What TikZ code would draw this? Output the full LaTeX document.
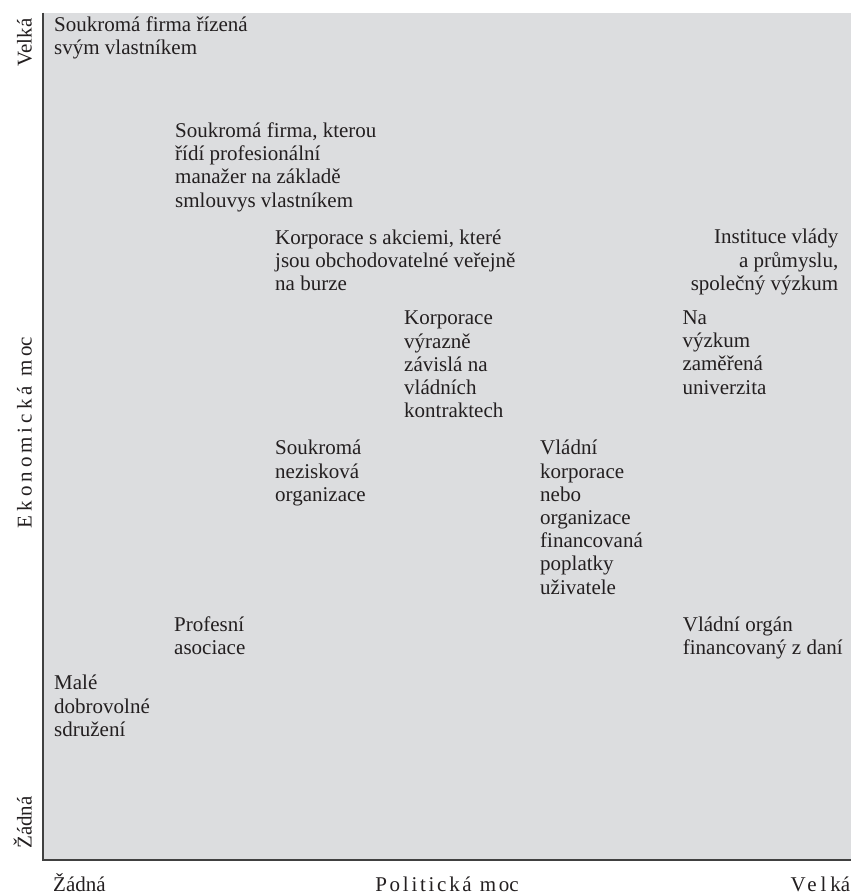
\documentclass[tikz,border=0pt]{standalone}
\usepackage{fontspec}
\setmainfont{Liberation Serif}
\newfontfamily\spacedA[LetterSpace=19]{Liberation Serif}
\newfontfamily\spacedB[LetterSpace=13]{Liberation Serif}
\newcommand\lblfont{\fontsize{21}{23.2}\selectfont}
\definecolor{bgc}{HTML}{DCDDDF}
\definecolor{axc}{HTML}{404040}
\definecolor{txtc}{HTML}{231F20}
\begin{document}
\begin{tikzpicture}[x=1pt,y=-1pt,
  lbl/.style={anchor=north west, inner sep=0pt, align=left, font=\lblfont, text=txtc,
    execute at begin node={\rule{0pt}{16pt}}},
  lblr/.style={lbl, anchor=north east, align=right},
  axlbl/.style={inner sep=0pt, font=\lblfont, text=txtc}]
\useasboundingbox (0,0) rectangle (851,894);
\fill[bgc] (43,12.7) rectangle (851,859.5);
\draw[axc, line width=2pt] (43,12.7) -- (43,859.5) -- (851,859.5);

% first-line baseline minus 16
\node[lbl] (a) at (54,16.5) {Soukromá firma řízená\\svým vlastníkem};
\node[lbl] (b) at (175,122.5) {Soukromá firma, kterou\\řídí profesionální\\manažer na základě\\smlouvys vlastníkem};
\node[lbl] (c) at (275,229.5) {Korporace s akciemi, které\\jsou obchodovatelné veřejně\\na burze};
\node[lblr] (d) at (838.5,229) {Instituce vlády\\a průmyslu,\\společný výzkum};
\node[lbl] (e) at (404,311) {Korporace\\výrazně\\závislá na\\vládních\\kontraktech};
\node[lbl] (f) at (682.3,310.5) {Na\\výzkum\\zaměřená\\univerzita};
\node[lbl] (g) at (275,440) {Soukromá\\nezisková\\organizace};
\node[lbl] (h) at (540,440) {Vládní\\korporace\\nebo\\organizace\\financovaná\\poplatky\\uživatele};
\node[lbl] (i) at (174,616.5) {Profesní\\asociace};
\node[lbl] (j) at (682.7,616.5) {Vládní orgán\\financovaný z daní};
\node[lbl] (k) at (54,675) {Malé\\dobrovolné\\sdružení};

% axis labels
\node[axlbl, rotate=90, anchor=base] (yhi) at (31.5,42.5) {Velká};
\node[axlbl, rotate=90, anchor=base] (ytitle) at (31.5,432.5) {{\spacedA Ekonomická mo}c};
\node[axlbl, rotate=90, anchor=base] (ylo) at (31.5,822.5) {Žádná};
\node[axlbl, anchor=base west] (xlo) at (53,891) {Žádná};
\node[axlbl, anchor=base] (xtitle) at (447,891) {{\spacedB Politická mo}c};
\node[axlbl, anchor=base east] (xhi) at (850.5,891) {{\spacedA Velk}á};
\end{tikzpicture}
\end{document}
